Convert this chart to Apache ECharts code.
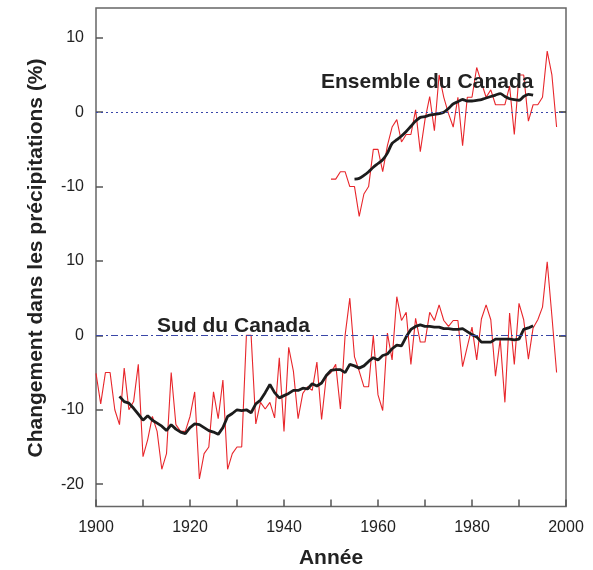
<!DOCTYPE html>
<html>
<head>
<meta charset="utf-8">
<script src="https://cdn.jsdelivr.net/npm/echarts@6/dist/echarts.min.js"></script>
<style>
  html, body { margin: 0; padding: 0; background: #fff; }
  #chart { width: 593px; height: 570px; }
</style>
</head>
<body>
<div id="chart"></div>
<script>
// annual values, % change (Ensemble du Canada from 1950, Sud du Canada from 1900)
const canadaStart = 1950
const canadaAnnual = [
  -9.0, -9.0, -8.0, -8.0, -10.0, -10.0, -14.0, -11.0, -10.0, -5.0,
  -5.0, -8.0, -4.5, -2.0, -1.0, -4.0, -3.0, -3.0, 0.3, -5.3,
  -1.0, 2.1, -2.5, 5.0, 2.0, -0.2, -2.0, 2.0, -4.5, 2.0,
  2.0, 6.0, 4.0, 2.0, 3.0, 1.0, 1.0, 1.0, 3.5, -3.0,
  5.0, 5.0, -1.2, 1.0, 1.0, 2.0, 8.2, 5.0, -2.0
]
const canadaSmoothStart = 1955
const canadaSmooth = [
  -9.0, -8.9, -8.5, -8.0, -7.4, -6.9, -6.4, -5.5, -4.2, -3.7,
  -3.2, -2.6, -1.9, -1.2, -0.7, -0.6, -0.4, -0.3, -0.2, 0.0,
  0.5, 1.1, 1.4, 1.7, 1.5, 1.5, 1.6, 1.7, 1.9, 2.1,
  2.3, 2.5, 2.1, 1.8, 1.7, 1.6, 2.1, 2.4, 2.3
]
const southStart = 1900
const southAnnual = [
  -5.1, -9.2, -5.0, -5.0, -10.0, -12.0, -4.4, -10.0, -8.9, -3.9,
  -16.3, -14.0, -10.9, -12.9, -18.0, -15.9, -5.0, -12.0, -12.9, -12.9,
  -10.9, -7.6, -19.3, -15.9, -15.0, -7.6, -11.2, -6.0, -18.0, -15.9,
  -15.0, -15.0, 0.0, 0.0, -11.9, -9.0, -9.9, -9.0, -11.1, -3.0,
  -12.9, -1.6, -4.8, -11.2, -7.8, -6.9, -7.4, -3.6, -11.3, -5.5,
  -5.0, -3.9, -9.9, 0.0, 5.0, -2.9, -4.8, -6.9, -6.9, 0.0,
  -8.0, -10.1, 0.3, -3.3, 5.2, 2.0, 3.1, -3.9, 2.3, -0.9,
  -0.9, 3.1, 2.0, 4.1, 2.0, 1.2, 2.0, 2.0, -4.2, -1.5,
  1.1, -3.3, 2.2, 4.1, 2.1, -5.5, -0.5, -9.0, 3.0, -3.9,
  4.3, 2.1, -3.2, 1.0, 2.1, 3.8, 9.9, 2.6, -5.0
]
const southSmoothStart = 1905
const southSmooth = [
  -8.2, -8.9, -9.1, -9.8, -10.6, -11.4, -10.8, -11.4, -11.8, -12.2,
  -12.8, -12.0, -12.6, -13.0, -13.2, -12.4, -11.9, -12.0, -12.4, -12.8,
  -13.0, -13.3, -12.4, -10.9, -10.5, -10.0, -10.1, -10.0, -10.4, -9.2,
  -8.7, -7.7, -6.6, -7.7, -8.4, -8.1, -7.8, -7.4, -7.4, -7.1,
  -7.2, -6.5, -6.8, -6.4, -5.4, -4.7, -4.6, -4.6, -5.0, -3.9,
  -4.1, -4.4, -4.1, -3.5, -3.0, -3.3, -2.7, -2.5, -1.8, -1.3,
  -1.4, -0.2, 0.8, 1.2, 1.4, 1.2, 1.2, 1.1, 1.1, 0.9,
  0.9, 0.8, 0.8, 0.9, 0.5, 0.1, -0.2, -0.9, -0.9, -0.9,
  -0.5, -0.5, -0.5, -0.5, -0.6, -0.5, 0.8, 1.0, 1.3
]
const yTickValues = [-20, -10, 0, 10, 20, 30, 40]

// top panel is drawn on the same axis, shifted up by 30
const panelShift = 30
const fontFamily = '"Liberation Sans", Arial, sans-serif'

const toPairs = (start, values, shift) => values.map((v, i) => [start + i, v + shift])

const chart = echarts.init(document.getElementById('chart'))

const option = {
  animation: false,
  grid: {
    left: 96,
    right: 27,
    top: 8,
    bottom: 63.5,
    show: true,
    borderColor: '#666',
    borderWidth: 1.5
  },
  xAxis: {
    type: 'value',
    min: 1900,
    max: 2000,
    interval: 10,
    axisLine: { show: false, onZero: false },
    axisTick: { inside: true, length: 7, lineStyle: { color: '#555', width: 1.5 } },
    axisLabel: {
      margin: 13,
      fontSize: 16,
      fontFamily: fontFamily,
      color: '#222',
      formatter: v => (v % 20 === 0 ? String(v) : '')
    },
    splitLine: { show: false }
  },
  yAxis: [
    {
      type: 'value',
      min: -23,
      max: 44,
      axisLine: { show: false },
      axisTick: {
        inside: true,
        length: 7,
        customValues: yTickValues,
        lineStyle: { color: '#555', width: 1.5 }
      },
      axisLabel: {
        margin: 12,
        fontSize: 16,
        fontFamily: fontFamily,
        color: '#222',
        customValues: yTickValues,
        formatter: v => String(v >= 15 ? v - panelShift : v)
      },
      splitLine: { show: false }
    },
    {
      type: 'value',
      position: 'right',
      min: -23,
      max: 44,
      axisLine: { show: false },
      axisTick: {
        inside: true,
        length: 7,
        customValues: [0, panelShift],
        lineStyle: { color: '#333', width: 1.5 }
      },
      axisLabel: { show: false },
      splitLine: { show: false }
    }
  ],
  series: [
    {
      name: 'Ensemble du Canada',
      type: 'line',
      data: toPairs(canadaStart, canadaAnnual, panelShift),
      symbol: 'none',
      lineStyle: { color: '#e8262b', width: 1.1 },
      markLine: {
        silent: true,
        symbol: 'none',
        label: { show: false },
        lineStyle: { color: '#3a47a8', width: 1.2, type: [2, 3] },
        data: [{ yAxis: panelShift }]
      },
      z: 2
    },
    {
      name: 'Ensemble du Canada (moyenne)',
      type: 'line',
      data: toPairs(canadaSmoothStart, canadaSmooth, panelShift),
      symbol: 'none',
      smooth: 0.3,
      lineStyle: { color: '#1c1c1c', width: 2.8 },
      z: 3
    },
    {
      name: 'Sud du Canada',
      type: 'line',
      data: toPairs(southStart, southAnnual, 0),
      symbol: 'none',
      lineStyle: { color: '#e8262b', width: 1.1 },
      markLine: {
        silent: true,
        symbol: 'none',
        label: { show: false },
        lineStyle: { color: '#3a47a8', width: 1.2, type: [7, 3, 2, 3] },
        data: [{ yAxis: 0 }]
      },
      z: 2
    },
    {
      name: 'Sud du Canada (moyenne)',
      type: 'line',
      data: toPairs(southSmoothStart, southSmooth, 0),
      symbol: 'none',
      lineStyle: { color: '#1c1c1c', width: 2.8 },
      z: 3
    }
  ],
  graphic: [
    {
      type: 'text',
      x: 321,
      y: 82,
      z: 10,
      style: {
        text: 'Ensemble du Canada',
        font: 'bold 21px ' + fontFamily,
        fill: '#222',
        textAlign: 'left',
        textVerticalAlign: 'middle'
      }
    },
    {
      type: 'text',
      x: 157,
      y: 326,
      z: 10,
      style: {
        text: 'Sud du Canada',
        font: 'bold 21px ' + fontFamily,
        fill: '#222',
        textAlign: 'left',
        textVerticalAlign: 'middle'
      }
    },
    {
      type: 'text',
      x: 36,
      y: 258,
      rotation: Math.PI / 2,
      style: {
        text: 'Changement dans les précipitations (%)',
        font: 'bold 21px ' + fontFamily,
        fill: '#222',
        textAlign: 'center',
        textVerticalAlign: 'middle'
      }
    },
    {
      type: 'text',
      x: 331,
      y: 558,
      style: {
        text: 'Année',
        font: 'bold 21px ' + fontFamily,
        fill: '#222',
        textAlign: 'center',
        textVerticalAlign: 'middle'
      }
    }
  ]
}

chart.setOption(option)
</script>
</body>
</html>
